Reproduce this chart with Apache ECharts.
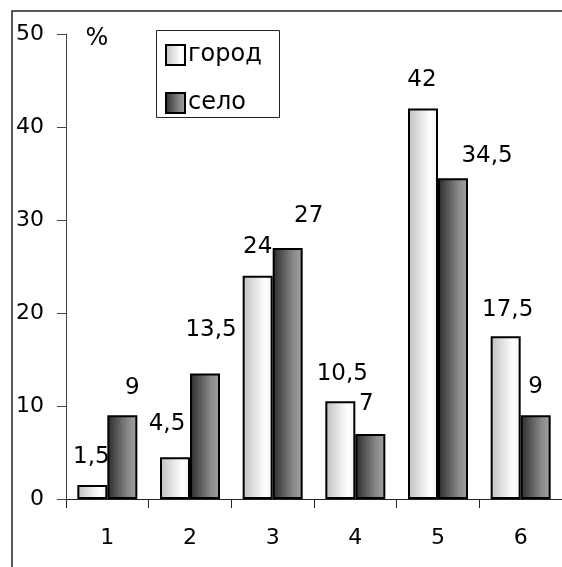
<!DOCTYPE html>
<html>
<head>
<meta charset="utf-8">
<script src="https://cdn.jsdelivr.net/npm/echarts@6/dist/echarts.min.js"></script>
<style>
  html, body { margin: 0; padding: 0; background: #fff; }
  #chart { width: 562px; height: 567px; }
</style>
</head>
<body>
<div id="chart"></div>
<script>
// Groups along the x axis
const categories = ['1', '2', '3', '4', '5', '6'];
// Share, %, by settlement type
const cityValues = [1.5, 4.5, 24, 10.5, 42, 17.5];
const villageValues = [9, 13.5, 27, 7, 34.5, 9];
const seriesNames = ['город', 'село'];
const yTicks = [0, 10, 20, 30, 40, 50];

// Hand-placed label nudges [dx, dy] in pixels
const cityLabelShift = [[-1, -17], [-8, -22], [0, -17], [2, -16], [-1, -17], [2, -15]];
const villageLabelShift = [[10, -16], [6, -32], [21, -20], [-4, -18], [34, -11], [0, -17]];

const FONT = '"DejaVu Sans", sans-serif';

const fmt = v => String(v).replace('.', ',');

const cityFill = new echarts.graphic.LinearGradient(0, 0, 1, 0, [
  { offset: 0, color: '#c0c0c0' },
  { offset: 0.75, color: '#ffffff' },
  { offset: 1, color: '#f2f2f2' }
]);
const villageFill = new echarts.graphic.LinearGradient(0, 0, 1, 0, [
  { offset: 0, color: '#2a2a2a' },
  { offset: 0.7, color: '#8a8a8a' },
  { offset: 1, color: '#a2a2a2' }
]);

function pointsWithLabels(values, shifts) {
  return values.map((v, i) => ({
    value: v,
    label: { offset: shifts[i] }
  }));
}

const labelStyle = {
  show: true,
  position: 'top',
  distance: 0,
  fontFamily: FONT,
  fontSize: 23,
  color: '#000',
  formatter: p => fmt(p.value)
};

const chart = echarts.init(document.getElementById('chart'), null, { renderer: 'canvas' });

chart.setOption({
  animation: false,
  backgroundColor: '#fff',
  grid: { left: 66, top: 34, width: 504, height: 465 },
  legend: {
    orient: 'vertical',
    left: 165,
    top: 43,
    padding: 0,
    itemWidth: 19,
    itemHeight: 20,
    itemGap: 24,
    icon: 'rect',
    textStyle: { fontFamily: FONT, fontSize: 24, color: '#000', lineHeight: 20, padding: [0, 0, 0, -2] },
    data: seriesNames
  },
  xAxis: {
    type: 'category',
    data: categories,
    axisLine: { lineStyle: { color: '#222', width: 1 } },
    axisTick: { show: true, length: 9, inside: false, lineStyle: { color: '#222' } },
    axisLabel: { margin: 28, fontFamily: FONT, fontSize: 22, color: '#000' }
  },
  yAxis: {
    type: 'value',
    min: 0,
    max: 50,
    interval: 10,
    axisLine: { show: true, lineStyle: { color: '#444', width: 1 } },
    axisTick: { show: true, length: 9, lineStyle: { color: '#444' } },
    splitLine: { show: false },
    axisLabel: {
      margin: 22,
      fontFamily: FONT,
      fontSize: 22,
      color: '#000',
      formatter: v => (yTicks.includes(v) ? String(v) : '')
    }
  },
  graphic: [
    {
      type: 'rect',
      silent: true,
      z: -1,
      shape: { x: 12, y: 11, width: 620, height: 620 },
      style: { fill: 'none', stroke: '#222', lineWidth: 1.5 }
    },
    {
      type: 'rect',
      silent: true,
      shape: { x: 156.5, y: 30.5, width: 123, height: 87 },
      style: { fill: '#fff', stroke: '#222', lineWidth: 1 },
      z: 0
    },
    {
      type: 'text',
      silent: true,
      x: 97,
      y: 39,
      style: {
        text: '%',
        fontFamily: FONT,
        fontSize: 24,
        fill: '#000',
        align: 'center',
        verticalAlign: 'middle'
      }
    }
  ],
  series: [
    {
      name: seriesNames[0],
      type: 'bar',
      barWidth: 30,
      barGap: '0%',
      data: pointsWithLabels(cityValues, cityLabelShift),
      itemStyle: { color: cityFill, borderColor: '#000', borderWidth: 2 },
      label: labelStyle,
      z: 3
    },
    {
      name: seriesNames[1],
      type: 'bar',
      barWidth: 30,
      barGap: '0%',
      data: pointsWithLabels(villageValues, villageLabelShift),
      itemStyle: { color: villageFill, borderColor: '#000', borderWidth: 2 },
      label: labelStyle,
      z: 3
    }
  ]
});
</script>
</body>
</html>
